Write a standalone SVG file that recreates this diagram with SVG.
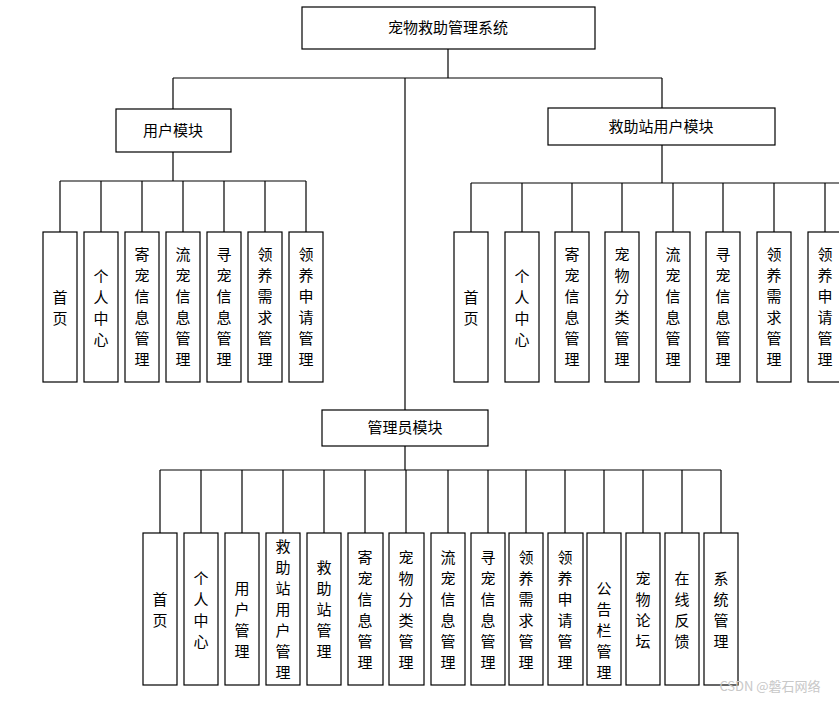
<svg xmlns="http://www.w3.org/2000/svg" width="839" height="701" viewBox="0 0 839 701">
<style>
rect{fill:#fff;stroke:#000;stroke-width:1.2}
text{font-family:"Noto Sans CJK SC","Noto Sans",sans-serif;font-size:15px;fill:#000;text-anchor:middle}
.c line{stroke:#000;stroke-width:1.2}
</style>
<rect x="0" y="0" width="839" height="701" style="stroke:none"/>
<g class="c" id="connectors">
<line x1="448" y1="49" x2="448" y2="78"/><line x1="173" y1="78" x2="662" y2="78"/>
<line x1="173" y1="78" x2="173" y2="109"/><line x1="662" y1="78" x2="662" y2="108"/>
<line x1="405" y1="78" x2="405" y2="410"/>
<line x1="173" y1="152" x2="173" y2="181"/><line x1="60" y1="181" x2="306" y2="181"/>
<line x1="60" y1="181" x2="60" y2="232"/><line x1="101" y1="181" x2="101" y2="232"/><line x1="142" y1="181" x2="142" y2="232"/><line x1="183" y1="181" x2="183" y2="232"/><line x1="224" y1="181" x2="224" y2="232"/><line x1="265" y1="181" x2="265" y2="232"/><line x1="306" y1="181" x2="306" y2="232"/>
<line x1="662" y1="145" x2="662" y2="183"/><line x1="471" y1="183" x2="839" y2="183"/>
<line x1="471" y1="183" x2="471" y2="232"/><line x1="522" y1="183" x2="522" y2="232"/><line x1="572" y1="183" x2="572" y2="232"/><line x1="622" y1="183" x2="622" y2="232"/><line x1="673" y1="183" x2="673" y2="232"/><line x1="723" y1="183" x2="723" y2="232"/><line x1="774" y1="183" x2="774" y2="232"/><line x1="825" y1="183" x2="825" y2="232"/>
<line x1="405" y1="446" x2="405" y2="470"/><line x1="160" y1="470" x2="721" y2="470"/>
<line x1="160" y1="470" x2="160" y2="533"/><line x1="201" y1="470" x2="201" y2="533"/><line x1="242" y1="470" x2="242" y2="533"/><line x1="283" y1="470" x2="283" y2="533"/><line x1="324" y1="470" x2="324" y2="533"/><line x1="365" y1="470" x2="365" y2="533"/><line x1="406" y1="470" x2="406" y2="533"/><line x1="448" y1="470" x2="448" y2="533"/><line x1="488" y1="470" x2="488" y2="533"/><line x1="526" y1="470" x2="526" y2="533"/><line x1="565" y1="470" x2="565" y2="533"/><line x1="604" y1="470" x2="604" y2="533"/><line x1="643" y1="470" x2="643" y2="533"/><line x1="682" y1="470" x2="682" y2="533"/><line x1="721" y1="470" x2="721" y2="533"/>
</g>
<g id="root"><rect x="302" y="7" width="293" height="42"/><text x="448" y="33">宠物救助管理系统</text></g>
<g id="user"><rect x="116" y="109" width="115" height="43"/><text x="173" y="136">用户模块</text></g>
<g id="rescue"><rect x="548" y="108" width="227" height="37"/><text x="661" y="132">救助站用户模块</text></g>
<g id="admin"><rect x="322" y="410" width="166" height="36"/><text x="405" y="433">管理员模块</text></g>
<g id="u1"><rect x="43" y="232" width="34" height="150"/><text x="60" y="303">首<tspan x="60" dy="21">页</tspan></text></g>
<g id="u2"><rect x="84" y="232" width="34" height="150"/><text x="101" y="282">个<tspan x="101" dy="21">人</tspan><tspan x="101" dy="21">中</tspan><tspan x="101" dy="21">心</tspan></text></g>
<g id="u3"><rect x="125" y="232" width="34" height="150"/><text x="142" y="260">寄<tspan x="142" dy="21">宠</tspan><tspan x="142" dy="21">信</tspan><tspan x="142" dy="21">息</tspan><tspan x="142" dy="21">管</tspan><tspan x="142" dy="21">理</tspan></text></g>
<g id="u4"><rect x="166" y="232" width="34" height="150"/><text x="183" y="260">流<tspan x="183" dy="21">宠</tspan><tspan x="183" dy="21">信</tspan><tspan x="183" dy="21">息</tspan><tspan x="183" dy="21">管</tspan><tspan x="183" dy="21">理</tspan></text></g>
<g id="u5"><rect x="207" y="232" width="34" height="150"/><text x="224" y="260">寻<tspan x="224" dy="21">宠</tspan><tspan x="224" dy="21">信</tspan><tspan x="224" dy="21">息</tspan><tspan x="224" dy="21">管</tspan><tspan x="224" dy="21">理</tspan></text></g>
<g id="u6"><rect x="248" y="232" width="34" height="150"/><text x="265" y="260">领<tspan x="265" dy="21">养</tspan><tspan x="265" dy="21">需</tspan><tspan x="265" dy="21">求</tspan><tspan x="265" dy="21">管</tspan><tspan x="265" dy="21">理</tspan></text></g>
<g id="u7"><rect x="289" y="232" width="34" height="150"/><text x="306" y="260">领<tspan x="306" dy="21">养</tspan><tspan x="306" dy="21">申</tspan><tspan x="306" dy="21">请</tspan><tspan x="306" dy="21">管</tspan><tspan x="306" dy="21">理</tspan></text></g>
<g id="r1"><rect x="454" y="232" width="34" height="150"/><text x="471" y="303">首<tspan x="471" dy="21">页</tspan></text></g>
<g id="r2"><rect x="505" y="232" width="34" height="150"/><text x="522" y="282">个<tspan x="522" dy="21">人</tspan><tspan x="522" dy="21">中</tspan><tspan x="522" dy="21">心</tspan></text></g>
<g id="r3"><rect x="555" y="232" width="34" height="150"/><text x="572" y="260">寄<tspan x="572" dy="21">宠</tspan><tspan x="572" dy="21">信</tspan><tspan x="572" dy="21">息</tspan><tspan x="572" dy="21">管</tspan><tspan x="572" dy="21">理</tspan></text></g>
<g id="r4"><rect x="605" y="232" width="34" height="150"/><text x="622" y="260">宠<tspan x="622" dy="21">物</tspan><tspan x="622" dy="21">分</tspan><tspan x="622" dy="21">类</tspan><tspan x="622" dy="21">管</tspan><tspan x="622" dy="21">理</tspan></text></g>
<g id="r5"><rect x="656" y="232" width="34" height="150"/><text x="673" y="260">流<tspan x="673" dy="21">宠</tspan><tspan x="673" dy="21">信</tspan><tspan x="673" dy="21">息</tspan><tspan x="673" dy="21">管</tspan><tspan x="673" dy="21">理</tspan></text></g>
<g id="r6"><rect x="706" y="232" width="34" height="150"/><text x="723" y="260">寻<tspan x="723" dy="21">宠</tspan><tspan x="723" dy="21">信</tspan><tspan x="723" dy="21">息</tspan><tspan x="723" dy="21">管</tspan><tspan x="723" dy="21">理</tspan></text></g>
<g id="r7"><rect x="757" y="232" width="34" height="150"/><text x="774" y="260">领<tspan x="774" dy="21">养</tspan><tspan x="774" dy="21">需</tspan><tspan x="774" dy="21">求</tspan><tspan x="774" dy="21">管</tspan><tspan x="774" dy="21">理</tspan></text></g>
<g id="r8"><rect x="808" y="232" width="34" height="150"/><text x="825" y="260">领<tspan x="825" dy="21">养</tspan><tspan x="825" dy="21">申</tspan><tspan x="825" dy="21">请</tspan><tspan x="825" dy="21">管</tspan><tspan x="825" dy="21">理</tspan></text></g>
<g id="a1"><rect x="143" y="533" width="34" height="152"/><text x="160" y="605">首<tspan x="160" dy="21">页</tspan></text></g>
<g id="a2"><rect x="184" y="533" width="34" height="152"/><text x="201" y="584">个<tspan x="201" dy="21">人</tspan><tspan x="201" dy="21">中</tspan><tspan x="201" dy="21">心</tspan></text></g>
<g id="a3"><rect x="225" y="533" width="34" height="152"/><text x="242" y="594">用<tspan x="242" dy="21">户</tspan><tspan x="242" dy="21">管</tspan><tspan x="242" dy="21">理</tspan></text></g>
<g id="a4"><rect x="266" y="533" width="34" height="152"/><text x="283" y="552">救<tspan x="283" dy="21">助</tspan><tspan x="283" dy="21">站</tspan><tspan x="283" dy="21">用</tspan><tspan x="283" dy="21">户</tspan><tspan x="283" dy="21">管</tspan><tspan x="283" dy="21">理</tspan></text></g>
<g id="a5"><rect x="307" y="533" width="34" height="152"/><text x="324" y="573">救<tspan x="324" dy="21">助</tspan><tspan x="324" dy="21">站</tspan><tspan x="324" dy="21">管</tspan><tspan x="324" dy="21">理</tspan></text></g>
<g id="a6"><rect x="348" y="533" width="35" height="152"/><text x="365" y="563">寄<tspan x="365" dy="21">宠</tspan><tspan x="365" dy="21">信</tspan><tspan x="365" dy="21">息</tspan><tspan x="365" dy="21">管</tspan><tspan x="365" dy="21">理</tspan></text></g>
<g id="a7"><rect x="389" y="533" width="35" height="152"/><text x="406" y="563">宠<tspan x="406" dy="21">物</tspan><tspan x="406" dy="21">分</tspan><tspan x="406" dy="21">类</tspan><tspan x="406" dy="21">管</tspan><tspan x="406" dy="21">理</tspan></text></g>
<g id="a8"><rect x="431" y="533" width="34" height="152"/><text x="448" y="563">流<tspan x="448" dy="21">宠</tspan><tspan x="448" dy="21">信</tspan><tspan x="448" dy="21">息</tspan><tspan x="448" dy="21">管</tspan><tspan x="448" dy="21">理</tspan></text></g>
<g id="a9"><rect x="471" y="533" width="34" height="152"/><text x="488" y="563">寻<tspan x="488" dy="21">宠</tspan><tspan x="488" dy="21">信</tspan><tspan x="488" dy="21">息</tspan><tspan x="488" dy="21">管</tspan><tspan x="488" dy="21">理</tspan></text></g>
<g id="a10"><rect x="509" y="533" width="34" height="152"/><text x="526" y="563">领<tspan x="526" dy="21">养</tspan><tspan x="526" dy="21">需</tspan><tspan x="526" dy="21">求</tspan><tspan x="526" dy="21">管</tspan><tspan x="526" dy="21">理</tspan></text></g>
<g id="a11"><rect x="548" y="533" width="35" height="152"/><text x="565" y="563">领<tspan x="565" dy="21">养</tspan><tspan x="565" dy="21">申</tspan><tspan x="565" dy="21">请</tspan><tspan x="565" dy="21">管</tspan><tspan x="565" dy="21">理</tspan></text></g>
<g id="a12"><rect x="587" y="533" width="34" height="152"/><text x="604" y="594">公<tspan x="604" dy="21">告</tspan><tspan x="604" dy="21">栏</tspan><tspan x="604" dy="21">管</tspan><tspan x="604" dy="21">理</tspan></text></g>
<g id="a13"><rect x="626" y="533" width="34" height="152"/><text x="643" y="584">宠<tspan x="643" dy="21">物</tspan><tspan x="643" dy="21">论</tspan><tspan x="643" dy="21">坛</tspan></text></g>
<g id="a14"><rect x="665" y="533" width="34" height="152"/><text x="682" y="584">在<tspan x="682" dy="21">线</tspan><tspan x="682" dy="21">反</tspan><tspan x="682" dy="21">馈</tspan></text></g>
<g id="a15"><rect x="704" y="533" width="34" height="152"/><text x="721" y="584">系<tspan x="721" dy="21">统</tspan><tspan x="721" dy="21">管</tspan><tspan x="721" dy="21">理</tspan></text></g>
<text x="770" y="691" style="font-size:13px;fill:#c8c8c8">CSDN @磐石网络</text>
</svg>
